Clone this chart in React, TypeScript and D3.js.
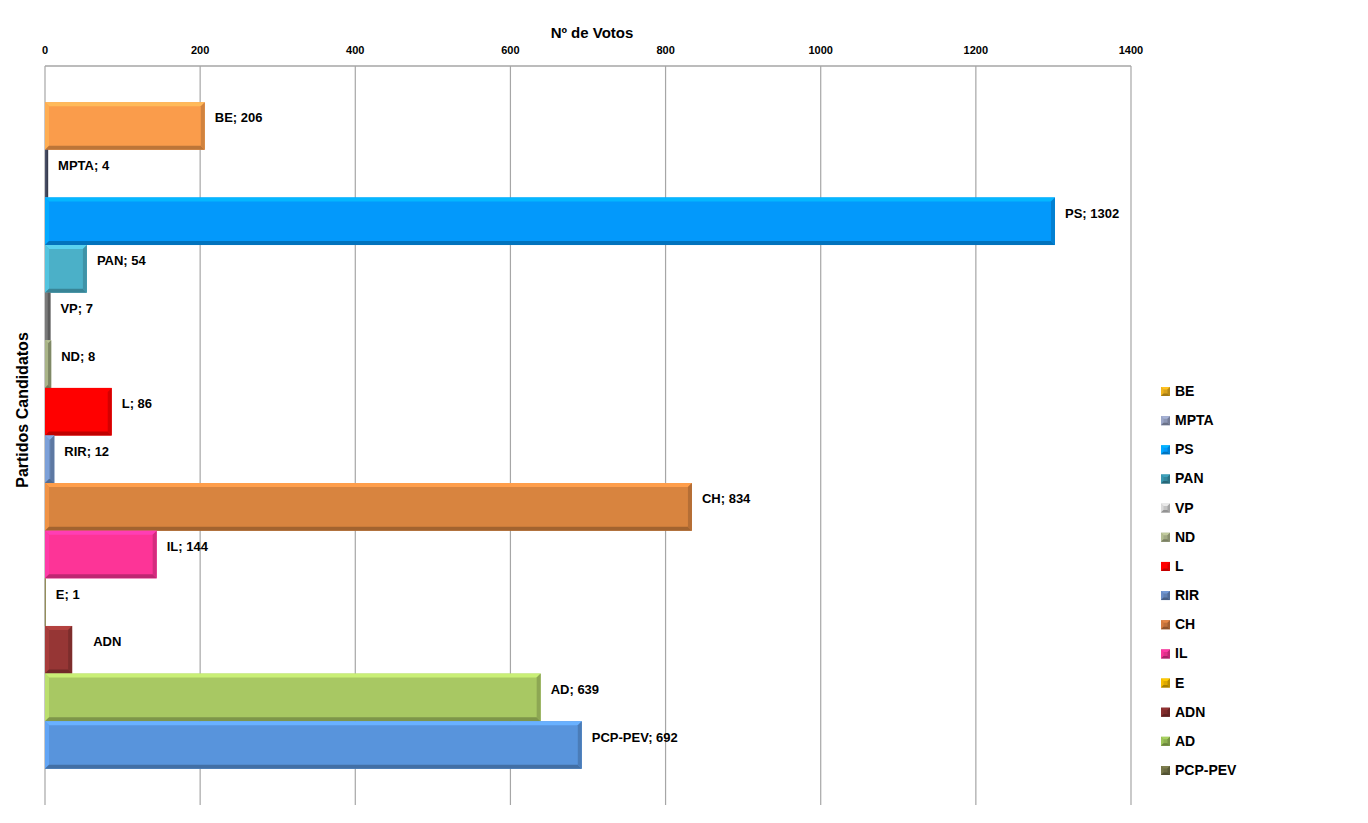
import * as d3 from 'd3';

const parties = ['BE', 'MPTA', 'PS', 'PAN', 'VP', 'ND', 'L', 'RIR', 'CH', 'IL', 'E', 'ADN', 'AD', 'PCP-PEV'];
const votes = [206, 4, 1302, 54, 7, 8, 86, 12, 834, 144, 1, 35, 639, 692];
// ADN shows no value in its label
const showValue = [true, true, true, true, true, true, true, true, true, true, true, false, true, true];
const barColors = ['#fa9c4b', '#4a5068', '#0399fb', '#4bb0c8', '#7a7a7a', '#98a27a', '#ff0000', '#6f90c2', '#d8843f', '#fd3497', '#b8ae6c', '#963635', '#a8c863', '#5894dc'];
const legendColors = ['#d8a21c', '#8c96b4', '#0399fb', '#34889e', '#c4c4c4', '#a2aa84', '#ff0000', '#6080b2', '#c0703a', '#e0308a', '#deaa00', '#7a2a2a', '#8db050', '#6a6a42'];
const xTicks = [0, 200, 400, 600, 800, 1000, 1200, 1400];

const W = 1368;
const H = 823;
const plot = { left: 45, right: 1131, top: 66, bottom: 805 };
const font = "'Liberation Sans', Arial, sans-serif";

const Bevel = ({ x, y, w, h, color, b }: { x: number; y: number; w: number; h: number; color: string; b: number }) => {
  const c = d3.color(color)!;
  const light = c.brighter(0.5).formatHex();
  const lighter = c.brighter(0.3).formatHex();
  const dark = c.darker(0.8).formatHex();
  const darker = c.darker(0.5).formatHex();
  const bb = Math.min(b, w / 2, h / 2);
  if (w < 6) {
    return (
      <g>
        <rect x={x} y={y} width={w} height={h} fill={color} />
        <rect x={x + w - Math.max(1, w / 2)} y={y} width={Math.max(1, w / 2)} height={h} fill={dark} />
      </g>
    );
  }
  const x2 = x + w;
  const y2 = y + h;
  return (
    <g>
      <rect x={x} y={y} width={w} height={h} fill={color} />
      <polygon points={`${x},${y} ${x2},${y} ${x2 - bb},${y + bb} ${x + bb},${y + bb}`} fill={light} />
      <polygon points={`${x},${y} ${x + bb},${y + bb} ${x + bb},${y2 - bb} ${x},${y2}`} fill={lighter} />
      <polygon points={`${x},${y2} ${x + bb},${y2 - bb} ${x2 - bb},${y2 - bb} ${x2},${y2}`} fill={dark} />
      <polygon points={`${x2},${y} ${x2},${y2} ${x2 - bb},${y2 - bb} ${x2 - bb},${y + bb}`} fill={darker} />
    </g>
  );
};

export default function App() {
  const x = d3.scaleLinear().domain([0, 1400]).range([plot.left, plot.right]);
  const y = d3.scaleBand<string>().domain(parties).range([plot.top, plot.bottom]).paddingInner(0).paddingOuter(0.76);
  const legendY = d3.scalePoint<string>().domain(parties).range([391, 770]);

  return (
    <svg width={W} height={H} style={{ position: 'absolute', left: 0, top: 0, background: '#fff' }} fontFamily={font}>
      {/* grid */}
      {xTicks.map((t) => (
        <line key={t} x1={x(t)} x2={x(t)} y1={plot.top} y2={plot.bottom} stroke="#a6a6a6" strokeWidth={1.2} />
      ))}
      <line x1={plot.left} x2={plot.right} y1={plot.top} y2={plot.top} stroke="#a6a6a6" strokeWidth={1.5} />
      {xTicks.map((t) => (
        <text key={t} x={x(t)} y={54} textAnchor="middle" fontSize={11} fontWeight="bold" fill="#000">
          {t}
        </text>
      ))}
      <text x={592} y={38} textAnchor="middle" fontSize={15} fontWeight="bold">
        Nº de Votos
      </text>
      <text transform={`translate(28,${410}) rotate(-90)`} textAnchor="middle" fontSize={16} fontWeight="bold">
        Partidos Candidatos
      </text>

      {/* bars */}
      {parties.map((p, i) => {
        const y0 = y(p)!;
        const w = x(votes[i]) - x(0);
        return (
          <Bevel key={p} x={x(0)} y={y0} w={w} h={y.bandwidth()} color={barColors[i]} b={4} />
        );
      })}

      {/* data labels */}
      {parties.map((p, i) => {
        const y0 = y(p)! + y.bandwidth() / 2 - 8;
        const lx = showValue[i] ? x(votes[i]) + 10 : x(votes[i]) + 21;
        return (
          <text key={p} x={lx} y={y0} dominantBaseline="central" fontSize={13} fontWeight="bold">
            {showValue[i] ? `${p}; ${votes[i]}` : p}
          </text>
        );
      })}

      {/* legend */}
      {parties.map((p, i) => {
        const ly = legendY(p)!;
        return (
          <g key={p}>
            <Bevel x={1161} y={ly - 4} w={9} h={9} color={legendColors[i]} b={2.5} />
            <text x={1175} y={ly} dominantBaseline="central" fontSize={14} fontWeight="bold">
              {p}
            </text>
          </g>
        );
      })}
    </svg>
  );
}
